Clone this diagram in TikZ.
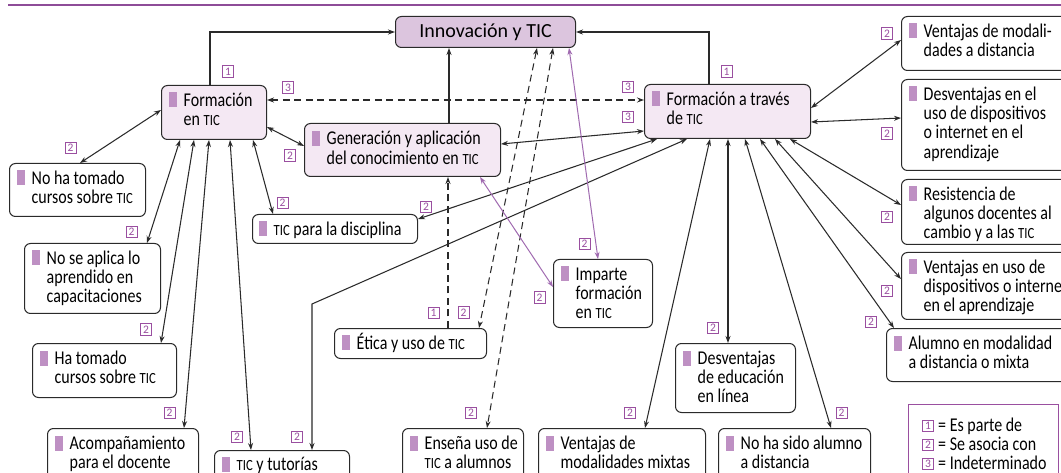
\documentclass[tikz,border=0pt]{standalone}
\usepackage{fontspec}
\setmainfont[FakeStretch=0.82]{Carlito}
\newfontfamily\titlefont{Carlito}
\usetikzlibrary{calc,arrows.meta}
\definecolor{linec}{HTML}{2A2A2A}
\definecolor{labc}{HTML}{9A4FA0}
\definecolor{purc}{HTML}{A06AB0}
\definecolor{mkc}{HTML}{BE90C3}
\definecolor{innovfill}{HTML}{DCC5DE}
\definecolor{lightfill}{HTML}{F4E8F3}
\definecolor{rulec}{HTML}{8E4C98}
\newcommand{\bodyfont}{\fontsize{19.5}{19}\selectfont}
\newcommand{\ticx}{{\fontsize{15.5}{19}\selectfont TIC}}
\newcommand{\mkb}{\textcolor{mkc}{\rule[-1pt]{8pt}{15pt}}\hspace{6.5pt}}
\newcommand{\boxlines}[1]{\mkb\begin{tabular}[t]{@{}l@{}}#1\end{tabular}}
\begin{document}
\begin{tikzpicture}[x=1pt,y=-1pt,
  >={Stealth[length=7pt,width=5pt]},
  box/.style={draw=linec, line width=1pt, rounded corners=6pt, fill=white, inner sep=0, anchor=north west},
  hbox/.style={box, fill=lightfill},
  txt/.style={inner sep=0, anchor=base west, font=\bodyfont},
  lab/.style={draw=labc, text=labc, line width=0.9pt, minimum width=11pt, minimum height=11.5pt, inner sep=0, font=\titlefont\fontsize{11.5}{11.5}\selectfont},
  conn/.style={draw=linec, line width=1.05pt},
  dsh/.style={conn, dash pattern=on 7pt off 4.5pt},
  pconn/.style={draw=purc, line width=1pt}]
\useasboundingbox (0,0) rectangle (1061,473);
\clip (0,0) rectangle (1061,473);
\fill[white] (0,0) rectangle (1061,473);
\draw[rulec, line width=1.5pt] (8,5) -- (1061,5);

% main nodes
\node[box, fill=innovfill, minimum width=180pt, minimum height=31pt, font=\titlefont\fontsize{20}{20}\selectfont] (innov) at (395,16) {Innovación y TIC};
\node[hbox, minimum width=105pt, minimum height=54pt] (ftic) at (161,85) {};
\node[txt] (ftic-t) at ($(ftic.north west)+(8,21.5)$) {\boxlines{Formación\\en \ticx}};
\node[hbox, minimum width=196pt, minimum height=53pt] (gen) at (304,123) {};
\node[txt] (gen-t) at ($(gen.north west)+(8,22)$) {\boxlines{Generación y aplicación\\del conocimiento en \ticx}};
\node[hbox, minimum width=166pt, minimum height=54pt] (ftra) at (644,84) {};
\node[txt] (ftra-t) at ($(ftra.north west)+(8,21.5)$) {\boxlines{Formación a través\\de \ticx}};

% left nodes
\node[box, minimum width=136pt, minimum height=53pt] (nocur) at (9,163) {};
\node[txt] (nocur-t) at ($(nocur.north west)+(8,21.5)$) {\boxlines{No ha tomado\\cursos sobre \ticx}};
\node[box, minimum width=165pt, minimum height=29pt] (disc) at (252,214) {};
\node[txt] (disc-t) at ($(disc.north west)+(7,21.5)$) {\boxlines{\ticx{} para la disciplina}};
\node[box, minimum width=136pt, minimum height=70pt] (noapl) at (24,243) {};
\node[txt] (noapl-t) at ($(noapl.north west)+(8,21.5)$) {\boxlines{No se aplica lo\\aprendido en\\capacitaciones}};
\node[box, minimum width=144pt, minimum height=54pt] (hatom) at (32,343) {};
\node[txt] (hatom-t) at ($(hatom.north west)+(8,21.5)$) {\boxlines{Ha tomado\\cursos sobre \ticx}};
\node[box, minimum width=151pt, minimum height=60pt] (acomp) at (47,428) {};
\node[txt] (acomp-t) at ($(acomp.north west)+(8,21.5)$) {\boxlines{Acompañamiento\\para el docente}};
\node[box, minimum width=135pt, minimum height=45pt] (tut) at (214,450) {};
\node[txt] (tut-t) at ($(tut.north west)+(8,20.5)$) {\boxlines{\ticx{} y tutorías}};

% middle nodes
\node[box, minimum width=152pt, minimum height=30pt] (etica) at (334,328) {};
\node[txt] (etica-t) at ($(etica.north west)+(8,21)$) {\boxlines{Ética y uso de \ticx}};
\node[box, minimum width=121pt, minimum height=60pt] (ensena) at (402,428) {};
\node[txt] (ensena-t) at ($(ensena.north west)+(8,21.5)$) {\boxlines{Enseña uso de\\\ticx{} a alumnos}};
\node[box, minimum width=99pt, minimum height=68pt] (imparte) at (553,259) {};
\node[txt] (imparte-t) at ($(imparte.north west)+(8,21.5)$) {\boxlines{Imparte\\formación\\en \ticx}};
\node[box, minimum width=120pt, minimum height=69pt] (desvedu) at (675,343) {};
\node[txt] (desvedu-t) at ($(desvedu.north west)+(8,21.5)$) {\boxlines{Desventajas\\de educación\\en línea}};
\node[box, minimum width=167pt, minimum height=60pt] (ventmix) at (538,428) {};
\node[txt] (ventmix-t) at ($(ventmix.north west)+(8,21.5)$) {\boxlines{Ventajas de\\modalidades mixtas}};
\node[box, minimum width=152pt, minimum height=60pt] (nosido) at (718,428) {};
\node[txt] (nosido-t) at ($(nosido.north west)+(8,21.5)$) {\boxlines{No ha sido alumno\\a distancia}};

% right nodes
\node[box, minimum width=185pt, minimum height=53pt] (alumno) at (886,328) {};
\node[txt] (alumno-t) at ($(alumno.north west)+(8,21.5)$) {\boxlines{Alumno en modalidad\\a distancia o mixta}};
\node[box, minimum width=170pt, minimum height=67pt] (ventuso) at (901,252) {};
\node[txt] (ventuso-t) at ($(ventuso.north west)+(8,21.5)$) {\boxlines{Ventajas en uso de\\dispositivos o internet\\en el aprendizaje}};
\node[box, minimum width=170pt, minimum height=65pt] (resist) at (901,179) {};
\node[txt] (resist-t) at ($(resist.north west)+(8,21.5)$) {\boxlines{Resistencia de\\algunos docentes al\\cambio y a las \ticx}};
\node[box, minimum width=170pt, minimum height=91pt] (desvuso) at (901,79) {};
\node[txt] (desvuso-t) at ($(desvuso.north west)+(8,21.5)$) {\boxlines{Desventajas en el\\uso de dispositivos\\o internet en el\\aprendizaje}};
\node[box, minimum width=170pt, minimum height=54pt] (ventdist) at (901,16) {};
\node[txt] (ventdist-t) at ($(ventdist.north west)+(8,21.5)$) {\boxlines{Ventajas de modali-\\dades a distancia}};

% legend
\node[draw=labc, line width=1.2pt, minimum width=150pt, minimum height=90pt, anchor=north west, inner sep=0] (legend) at (908,404) {};
\node[lab] (lg1) at (928,426) {1};
\node[txt] (lg1-t) at (938,431) {= Es parte de};
\node[lab] (lg2) at (928,445) {2};
\node[txt] (lg2-t) at (938,450) {= Se asocia con};
\node[lab] (lg3) at (928,464) {3};
\node[txt] (lg3-t) at (938,469) {= Indeterminado};

% connectors to Innovacion
\draw[conn,->] ($(ftic.north west)+(49,0)$) |- (innov.west);
\draw[conn,->] ($(ftra.north west)+(65,0)$) |- (innov.east);
\coordinate (gtop) at ($(gen.north west)+(145,0)$);
\draw[conn,->] (gtop) -- (gtop |- innov.south);
\draw[dsh,<->] ($(ftic.north east)+(0,15)$) -- ($(ftra.north west)+(0,16)$);
\draw[conn,<->] ($(gen.north east)+(0,21)$) -- ($(ftra.north west)+(0,47)$);

% left cluster
\draw[conn,<->] ($(ftic.north west)+(0,25)$) -- ($(nocur.north west)+(71,0)$);
\draw[conn,<->] ($(ftic.south west)+(19,0)$) -- ($(noapl.north west)+(123,0)$);
\draw[conn,<->] ($(ftic.south west)+(33,0)$) -- ($(hatom.north west)+(129,0)$);
\draw[conn,<->] ($(ftic.south west)+(48,0)$) -- ($(acomp.north west)+(137,0)$);
\draw[conn,<->] ($(ftic.south west)+(69,0)$) -- ($(tut.north west)+(37,0)$);
\draw[conn,<->] ($(ftic.south west)+(92,0)$) -- ($(disc.north west)+(21,0)$);
\draw[conn,<->] ($(ftic.south east)+(0,-13)$) -- ($(gen.north west)+(0,23)$);

% right cluster
\draw[conn,<->] ($(ftra.north east)+(0,24)$) -- ($(ventdist.north west)+(0,24)$);
\draw[conn,<->] ($(ftra.north east)+(0,38)$) -- ($(desvuso.north west)+(0,39)$);
\draw[conn,<->] ($(ftra.south west)+(146,0)$) -- ($(resist.north west)+(0,26)$);
\draw[conn,<->] ($(ftra.south west)+(131,0)$) -- ($(ventuso.north west)+(0,27)$);
\draw[conn,<->] ($(ftra.south west)+(116,0)$) -- ($(alumno.north west)+(8,0)$);
\draw[conn,<->] ($(ftra.south west)+(101,0)$) -- ($(nosido.north west)+(113,0)$);
\draw[conn,<->] ($(ftra.south west)+(84,0)$) -- ($(desvedu.north west)+(53,0)$);
\draw[conn,<->] ($(ftra.south west)+(66,0)$) -- ($(ventmix.north west)+(107,0)$);
\coordinate (tbend) at ($(tut.north west)+(98,-146)$);
\draw[conn,<->] ($(ftra.south west)+(43,0)$) -- (tbend) -- ($(tut.north west)+(98,0)$);
\draw[conn,<->] ($(ftra.south west)+(13,0)$) -- ($(disc.north east)+(0,5)$);

% dashed
\draw[dsh,<->] ($(innov.south west)+(142,0)$) -- ($(etica.north west)+(145,0)$);
\draw[dsh,<->] ($(innov.south west)+(158,0)$) -- ($(ensena.north west)+(85,0)$);
\coordinate (etop) at ($(etica.north west)+(114,0)$);
\draw[dsh,->] (etop) -- (etop |- gen.south);

% purple
\draw[pconn,<->] ($(gen.south west)+(176,0)$) -- ($(imparte.north west)+(0,28)$);
\draw[pconn,<->] ($(innov.south west)+(174,0)$) -- ($(imparte.north west)+(45,0)$);

% labels
\node[lab] (la1) at (228,71.5) {1};
\node[lab] (la2) at (726.5,71.5) {1};
\node[lab] (la3) at (288,87.5) {3};
\node[lab] (la4) at (628,87) {3};
\node[lab] (la5) at (628,117) {3};
\node[lab] (la6) at (70.5,148) {2};
\node[lab] (la7) at (290,155.5) {2};
\node[lab] (la8) at (282.5,203) {2};
\node[lab] (la9) at (426,207) {2};
\node[lab] (la10) at (131.5,232) {2};
\node[lab] (la11) at (146,329.5) {2};
\node[lab] (la12) at (169.5,413) {2};
\node[lab] (la13) at (237,437) {2};
\node[lab] (la14) at (297,437) {2};
\node[lab] (la15) at (433.5,313) {1};
\node[lab] (la16) at (463.5,312.5) {2};
\node[lab] (la17) at (471,413) {2};
\node[lab] (la18) at (539.5,297.5) {2};
\node[lab] (la19) at (584.5,244) {2};
\node[lab] (la20) at (630,413) {2};
\node[lab] (la21) at (713,328) {2};
\node[lab] (la22) at (841.5,413) {2};
\node[lab] (la23) at (871,322) {2};
\node[lab] (la24) at (887,291) {2};
\node[lab] (la25) at (887,217) {2};
\node[lab] (la26) at (887,133.5) {2};
\node[lab] (la27) at (887,33.5) {2};
\end{tikzpicture}
\end{document}
